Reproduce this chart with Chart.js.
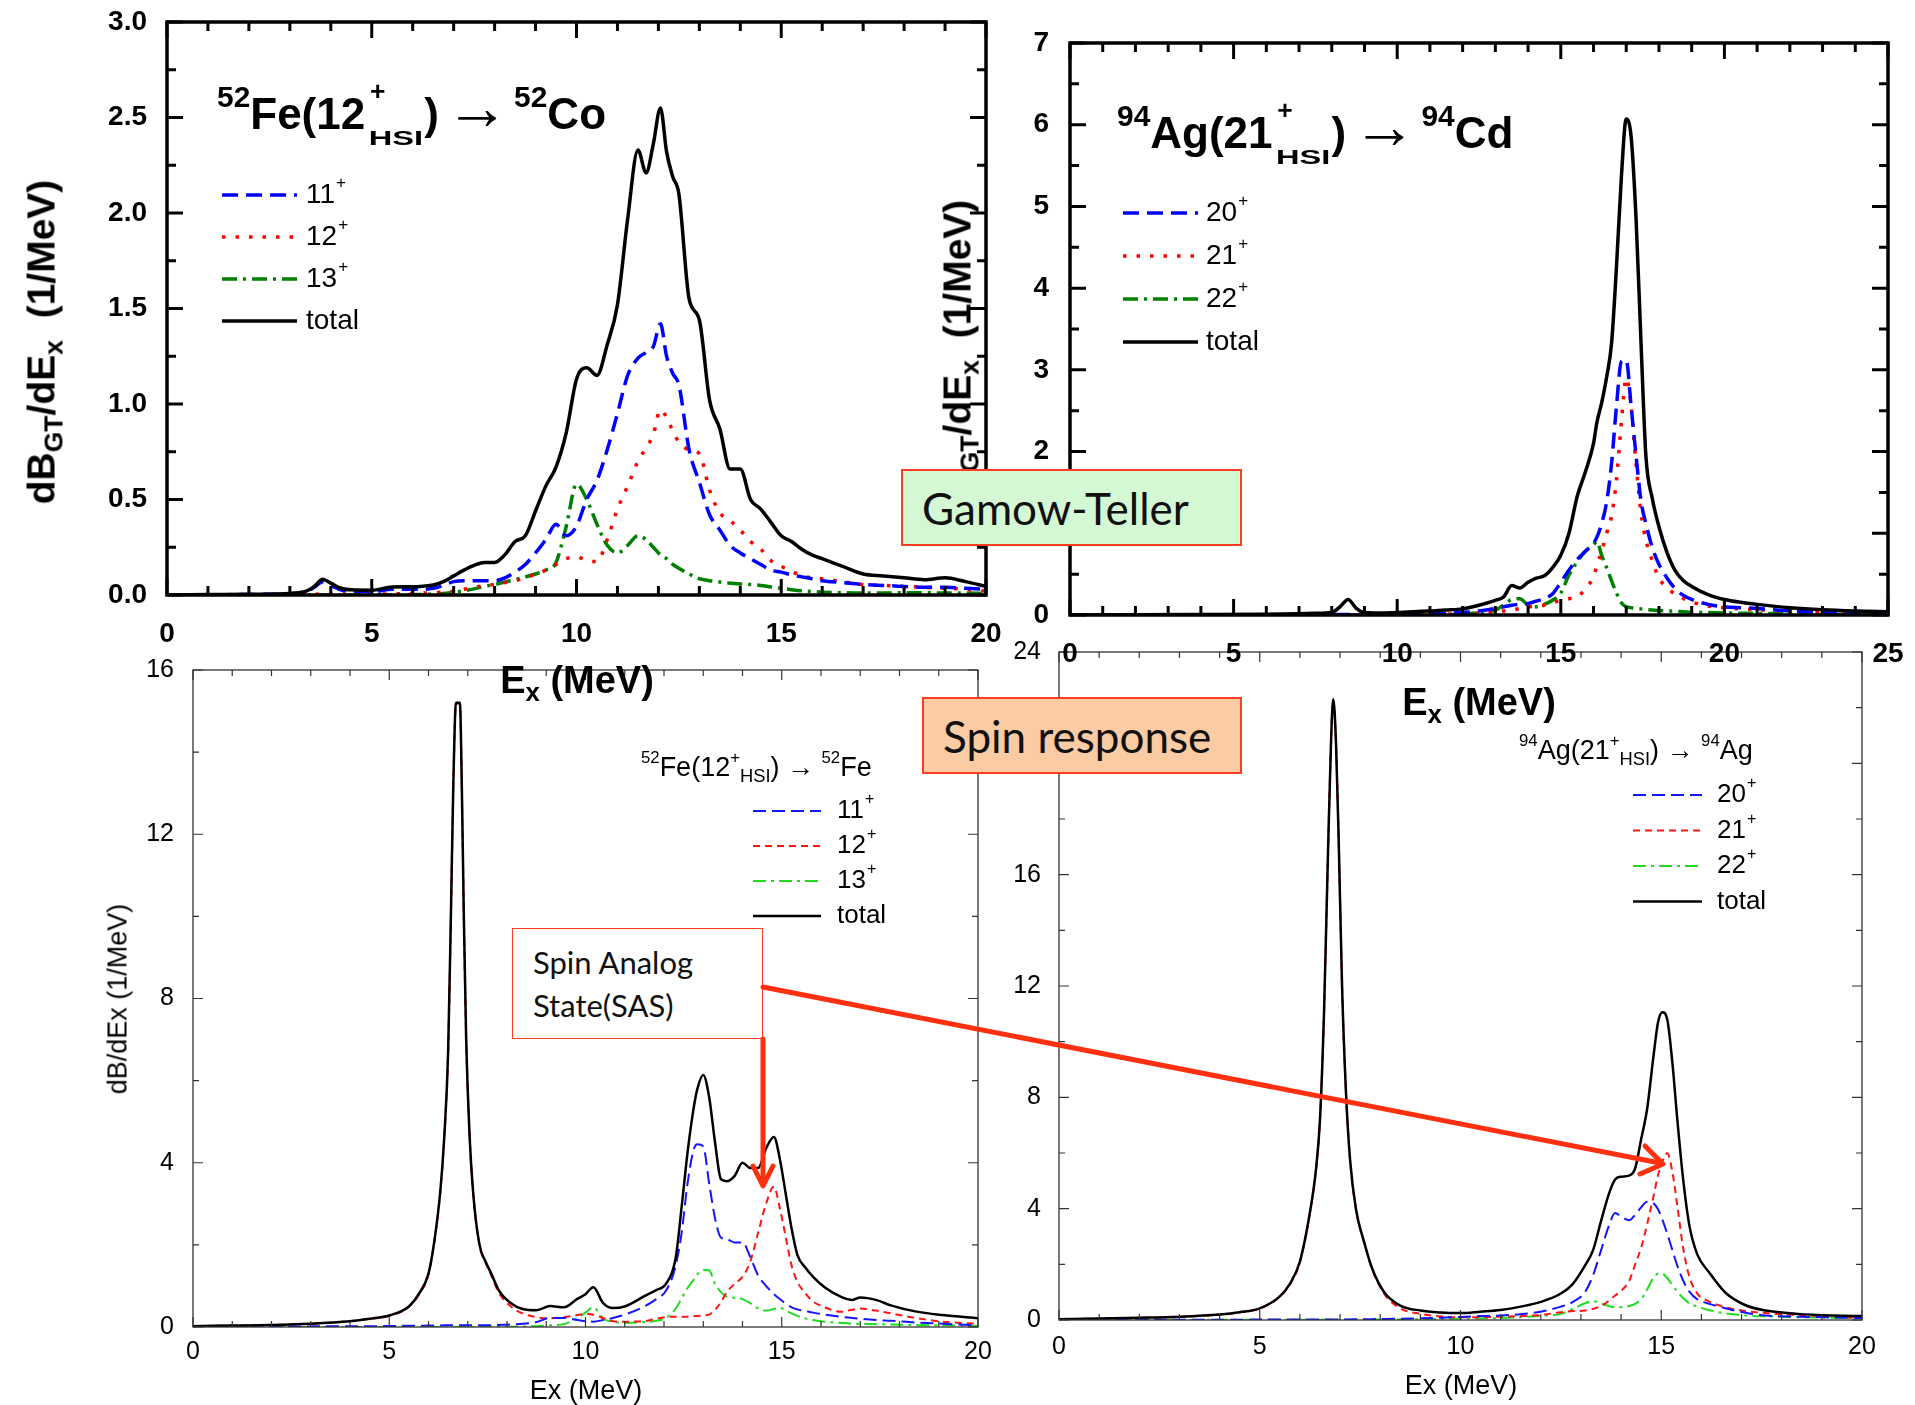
<!DOCTYPE html>
<html>
<head>
<meta charset="utf-8">
<title>Gamow-Teller and spin response</title>
<script src="https://cdn.jsdelivr.net/npm/chart.js@4.4.1/dist/chart.umd.min.js"></script>
<style>
  html, body { margin: 0; padding: 0; background: #fff; }
  body { position: relative; width: 1915px; height: 1405px; overflow: hidden;
         font-family: "Liberation Sans", Arial, sans-serif; color: #000; }
  canvas { position: absolute; }
  .t { position: absolute; white-space: nowrap; line-height: 1; }
  .bold { font-weight: bold; }
  .rot { transform: translate(-50%, -50%) rotate(-90deg); }
  .cx { transform: translateX(-50%); }
  .up { position: relative; font-size: 0.62em; top: -0.8em; }
  .up2 { position: relative; font-size: 0.68em; top: -0.72em; }
  .sb { position: relative; font-size: 0.68em; top: 0.32em; }
  .stk { display: inline-block; position: relative; width: 1.26em; height: 1px; margin-left: 0.08em; }
  .stk .p { position: absolute; left: 0.05em; top: -1.9em; font-size: 0.6em; }
  .stk .s { position: absolute; left: 0; top: 0; font-size: 0.74em;
            transform: scaleY(0.62); transform-origin: 0 0; }
  .arr { font-weight: normal; font-size: 1.45em; line-height: 0; margin: 0 0.08em 0 0.1em; }
  .box { position: absolute; box-sizing: border-box; border: 2px solid #ff3d1f;
         font-family: Lato, "Open Sans", sans-serif; color: #111; }
</style>
</head>
<body>
<canvas id="fefe" width="1010" height="785" style="left:0px; top:620px;"></canvas>
<canvas id="agag" width="955" height="805" style="left:960px; top:600px;"></canvas>
<canvas id="feco" width="1030" height="720" style="left:0px; top:-20px;"></canvas>
<canvas id="agcd" width="1050" height="700" style="left:900px; top:0px;"></canvas>

<!-- top-left titles -->
<div class="t bold" style="left:217px; top:92px; font-size:44px;"><span class="up2">52</span>Fe(12<span class="stk"><span class="p">+</span><span class="s">HSI</span></span>)<span class="arr">&rarr;</span><span class="up2">52</span>Co</div>
<div class="t bold rot" style="left:41px; top:342px; font-size:39px;">dB<span class="sb">GT</span>/dE<span class="sb">x</span>&nbsp; (1/MeV)</div>
<div class="t bold cx" style="left:577px; top:661px; font-size:38px;">E<span class="sb">x</span> (MeV)</div>

<!-- top-right titles -->
<div class="t bold" style="left:1117px; top:111px; font-size:44px;"><span class="up2">94</span>Ag(21<span class="stk"><span class="p">+</span><span class="s">HSI</span></span>)<span class="arr">&rarr;</span><span class="up2">94</span>Cd</div>
<div class="t bold rot" style="left:957px; top:362px; font-size:39px;">dB<span class="sb">GT</span>/dE<span class="sb">x</span>&nbsp; (1/MeV)</div>
<div class="t bold cx" style="left:1479px; top:683px; font-size:38px;">E<span class="sb">x</span> (MeV)</div>

<!-- bottom-left titles -->
<div class="t" style="left:641px; top:754px; font-size:27px;"><span class="up">52</span>Fe(12<span class="up">+</span><span class="sb">HSI</span>) &rarr; <span class="up">52</span>Fe</div>
<div class="t rot" style="left:118px; top:999px; font-size:27px;">dB/dEx (1/MeV)</div>
<div class="t cx" style="left:586px; top:1377px; font-size:27px;">Ex (MeV)</div>

<!-- bottom-right titles -->
<div class="t" style="left:1519px; top:737px; font-size:27px;"><span class="up">94</span>Ag(21<span class="up">+</span><span class="sb">HSI</span>) &rarr; <span class="up">94</span>Ag</div>
<div class="t cx" style="left:1461px; top:1372px; font-size:27px;">Ex (MeV)</div>

<!-- annotations -->
<div class="box" style="left:901px; top:469px; width:341px; height:77px; background:#d4f8d4; font-size:44px; padding:11px 0 0 19px;">Gamow-Teller</div>
<div class="box" style="left:922px; top:697px; width:320px; height:77px; background:#fbcba4; font-size:44px; padding:11px 0 0 19px;">Spin response</div>
<div class="box" style="left:512px; top:928px; width:251px; height:111px; background:#fff; border-width:1.5px; font-size:31px; line-height:43px; padding:12px 0 0 20px;">Spin Analog<br>State(SAS)</div>
<svg width="1915" height="1405" style="position:absolute; left:0; top:0;">
  <g stroke="#ff3010" stroke-width="5" fill="none" stroke-linecap="round" stroke-linejoin="round">
    <line x1="763" y1="987" x2="1660" y2="1163"/>
    <polyline points="1645,1146 1663,1164 1640,1174"/>
    <line x1="763" y1="1039" x2="763" y2="1183"/>
    <polyline points="753,1166 763,1186 773,1166"/>
  </g>
</svg>

<script>
// ---------- 52Fe(12+ HSI) -> 52Co, Gamow-Teller strength ----------
const feCoEx = [0, 1, 2, 3,
  3.4, 3.6, 3.8, 4.0, 4.2, 4.5,
  5, 5.5, 6,
  6.25, 6.5, 6.75, 7,
  7.25, 7.5, 7.75, 8,
  8.25, 8.5, 8.75, 9,
  9.25, 9.5, 9.75, 10,
  10.25, 10.5, 10.75, 11,
  11.25, 11.5,
  11.7, 11.875, 12.05, 12.2, 12.35, 12.5,
  12.75, 13,
  13.25, 13.5, 13.75, 14,
  14.25, 14.5, 14.75, 15,
  15.25, 15.5, 15.75, 16,
  16.5, 17, 17.5, 18, 18.5, 19, 19.5, 20];
const feCo11 = [0, 0.001, 0.003, 0.006,
  0.018, 0.04, 0.07, 0.05, 0.03, 0.02,
  0.018, 0.03, 0.03,
  0.03, 0.035, 0.05, 0.07,
  0.075, 0.075, 0.075, 0.075,
  0.09, 0.12, 0.16, 0.22,
  0.29, 0.37, 0.31, 0.36,
  0.5, 0.6, 0.76, 0.95,
  1.15, 1.24,
  1.27, 1.3, 1.42, 1.25, 1.16, 1.1,
  0.76, 0.59,
  0.42, 0.34, 0.26, 0.22,
  0.19, 0.16, 0.13, 0.12,
  0.105, 0.095, 0.085, 0.075,
  0.065, 0.055, 0.05, 0.045, 0.04, 0.04, 0.035, 0.03];
const feCo12 = [0, 0, 0, 0.002,
  0.003, 0.004, 0.005, 0.005, 0.005, 0.005,
  0.005, 0.006, 0.008,
  0.01, 0.012, 0.015, 0.02,
  0.03, 0.04, 0.05, 0.055,
  0.065, 0.075, 0.09, 0.11,
  0.13, 0.16, 0.19, 0.2,
  0.18, 0.175, 0.29, 0.45,
  0.57, 0.7,
  0.77, 0.84, 0.97, 0.93, 0.86, 0.8,
  0.76, 0.74,
  0.55, 0.43, 0.39, 0.34,
  0.28, 0.24, 0.18, 0.15,
  0.125, 0.1, 0.09, 0.085,
  0.07, 0.055, 0.05, 0.045, 0.04, 0.035, 0.03, 0.02];
const feCo13 = [0, 0, 0, 0,
  0, 0, 0, 0, 0, 0,
  0, 0.001, 0.002,
  0.003, 0.005, 0.008, 0.015,
  0.022, 0.032, 0.045, 0.055,
  0.068, 0.08, 0.095, 0.11,
  0.13, 0.17, 0.36, 0.58,
  0.5, 0.37, 0.26, 0.22,
  0.26, 0.31,
  0.29, 0.25, 0.21, 0.19, 0.16, 0.14,
  0.11, 0.085,
  0.075, 0.068, 0.062, 0.058,
  0.055, 0.05, 0.042, 0.035,
  0.028, 0.022, 0.018, 0.015,
  0.012, 0.01, 0.01, 0.012, 0.012, 0.01, 0.01, 0.008];
const feCoTotal = [0, 0.002, 0.004, 0.008,
  0.02, 0.045, 0.082, 0.062, 0.038, 0.027,
  0.025, 0.042, 0.043,
  0.046, 0.052, 0.07, 0.1,
  0.13, 0.155, 0.17, 0.17,
  0.21, 0.28, 0.31, 0.44,
  0.57, 0.67, 0.85, 1.13,
  1.19, 1.15, 1.31, 1.52,
  1.97, 2.33,
  2.21, 2.36, 2.55, 2.32, 2.19, 2.1,
  1.55, 1.44,
  1.02, 0.87, 0.66, 0.66,
  0.5, 0.45, 0.38, 0.31,
  0.28, 0.24, 0.21, 0.19,
  0.15, 0.11, 0.1, 0.09, 0.08, 0.09, 0.07, 0.045];

// ---------- 94Ag(21+ HSI) -> 94Cd, Gamow-Teller strength ----------
const agCdEx = [0, 2, 4, 6, 7, 7.5, 8,
  8.25, 8.5, 8.75, 9,
  9.5, 10, 10.5, 11, 11.5, 12, 12.5, 13,
  13.25, 13.5, 13.75, 14,
  14.25, 14.5, 14.75, 15,
  15.25, 15.5, 15.75, 16,
  16.1, 16.25, 16.4, 16.55, 16.7, 16.85, 17,
  17.15, 17.3, 17.45, 17.6, 17.8, 18,
  18.25, 18.5, 18.75, 19,
  19.5, 20, 20.5, 21,
  22, 23, 24, 25];
const agCd20 = [0, 0, 0, 0.002, 0.003, 0.004, 0.005,
  0.005, 0.005, 0.005, 0.005,
  0.006, 0.008, 0.01, 0.015, 0.02, 0.03, 0.05, 0.08,
  0.1, 0.12, 0.13, 0.14,
  0.17, 0.2, 0.26, 0.4,
  0.55, 0.68, 0.78, 0.88,
  0.95, 1.12, 1.38, 1.85, 2.55, 3.1, 3.12,
  2.55, 1.95, 1.4, 1.12, 0.82, 0.62,
  0.45, 0.32, 0.24, 0.19,
  0.13, 0.1, 0.09, 0.08,
  0.05, 0.03, 0.02, 0.01];
const agCd21 = [0, 0, 0, 0, 0, 0, 0.002,
  0.002, 0.003, 0.003, 0.003,
  0.004, 0.005, 0.006, 0.008, 0.01, 0.015, 0.025, 0.04,
  0.05, 0.06, 0.08, 0.1,
  0.11, 0.12, 0.15, 0.18,
  0.2, 0.22, 0.32, 0.47,
  0.6, 0.78, 1.0, 1.21, 1.65, 2.35, 2.9,
  2.55, 1.85, 1.25, 0.92, 0.66, 0.45,
  0.34, 0.25, 0.2, 0.16,
  0.11, 0.09, 0.075, 0.065,
  0.045, 0.03, 0.02, 0.015];
const agCd22 = [0, 0, 0, 0, 0, 0, 0,
  0, 0, 0, 0,
  0, 0, 0, 0.002, 0.005, 0.01, 0.03, 0.06,
  0.12, 0.19, 0.2, 0.12,
  0.1, 0.13, 0.18, 0.27,
  0.49, 0.65, 0.78, 0.86,
  0.9, 0.73, 0.58, 0.42, 0.27, 0.15, 0.1,
  0.09, 0.08, 0.075, 0.07, 0.06, 0.055,
  0.05, 0.045, 0.04, 0.035,
  0.03, 0.025, 0.02, 0.02,
  0.015, 0.01, 0.01, 0.005];
const agCdTotal = [0, 0.002, 0.005, 0.01, 0.015, 0.02, 0.03,
  0.1, 0.19, 0.08, 0.03,
  0.025, 0.03, 0.04, 0.05, 0.06, 0.075, 0.12, 0.18,
  0.22, 0.36, 0.33, 0.4,
  0.45, 0.48, 0.58, 0.73,
  1.0, 1.45, 1.75, 2.1,
  2.35, 2.6, 2.91, 3.32, 4.25, 5.35, 6.07,
  5.85, 4.85, 3.35, 1.95, 1.42, 1.08,
  0.76, 0.54, 0.42, 0.35,
  0.25, 0.19, 0.155, 0.13,
  0.09, 0.065, 0.05, 0.04];

// ---------- 52Fe(12+ HSI) -> 52Fe, spin response ----------
const feFeEx = [0, 1, 2, 3, 4, 4.5, 5,
  5.5, 5.75, 6,
  6.15, 6.3, 6.4, 6.5,
  6.57, 6.63, 6.7, 6.8,
  6.85, 6.9, 6.96, 7.04,
  7.14, 7.3, 7.45, 7.6,
  7.8, 8.1, 8.4, 8.75,
  9.1, 9.45, 9.8, 10,
  10.2, 10.45, 10.7, 11,
  11.5, 11.8, 12.05, 12.3,
  12.45, 12.6, 12.75, 12.85,
  13, 13.15, 13.3, 13.45,
  13.6, 13.8, 14, 14.2,
  14.4, 14.6, 14.8, 14.95,
  15.1, 15.25, 15.4, 15.6,
  15.8, 16.1, 16.5, 16.8,
  17, 17.4, 17.8, 18.4,
  19.1, 20];
const feFe11 = [0, 0.005, 0.01, 0.015, 0.02, 0.02, 0.025,
  0.03, 0.03, 0.035,
  0.035, 0.035, 0.04, 0.04,
  0.04, 0.04, 0.04, 0.04,
  0.04, 0.04, 0.04, 0.04,
  0.04, 0.04, 0.045, 0.045,
  0.05, 0.06, 0.08, 0.12,
  0.22, 0.22, 0.17, 0.14,
  0.13, 0.17, 0.22, 0.3,
  0.5, 0.68, 0.88, 1.5,
  2.3, 3.5, 4.3, 4.45,
  4.4, 3.5, 2.65, 2.18,
  2.14, 2.06, 2.06, 1.7,
  1.25, 1.0, 0.8, 0.68,
  0.57, 0.48, 0.43, 0.39,
  0.35, 0.3, 0.25, 0.22,
  0.2, 0.17, 0.15, 0.11,
  0.08, 0.04];
const feFe12 = [0.02, 0.035, 0.05, 0.08, 0.14, 0.2, 0.27,
  0.49, 0.78, 1.28,
  2.08, 3.28, 4.58, 6.68,
  9.98, 13.08, 15.18, 15.18,
  13.08, 9.98, 6.98, 4.78,
  3.23, 1.98, 1.58, 1.25,
  0.82, 0.5, 0.33, 0.24,
  0.21, 0.24, 0.29, 0.32,
  0.3, 0.22, 0.14, 0.13,
  0.14, 0.2, 0.24, 0.25,
  0.25, 0.25, 0.26, 0.27,
  0.28, 0.3, 0.42, 0.6,
  0.85, 1.05, 1.22, 1.6,
  2.3, 3.0, 3.42, 2.9,
  2.2, 1.5, 1.1, 0.82,
  0.62, 0.48, 0.37, 0.42,
  0.45, 0.4, 0.33, 0.22,
  0.13, 0.08];
const feFe13 = [0, 0, 0, 0, 0, 0, 0,
  0, 0, 0.002,
  0.002, 0.002, 0.002, 0.002,
  0.002, 0.002, 0.002, 0.002,
  0.002, 0.002, 0.002, 0.002,
  0.002, 0.003, 0.003, 0.004,
  0.005, 0.008, 0.012, 0.02,
  0.04, 0.07, 0.22, 0.35,
  0.48, 0.2, 0.13, 0.1,
  0.12, 0.15, 0.22, 0.45,
  0.7, 0.95, 1.14, 1.28,
  1.39, 1.38, 1.05, 0.85,
  0.74, 0.71, 0.68, 0.58,
  0.45, 0.4, 0.44, 0.47,
  0.4, 0.33, 0.27, 0.21,
  0.17, 0.13, 0.1, 0.08,
  0.075, 0.07, 0.06, 0.05,
  0.04, 0.03];
const feFeTotal = [0.02, 0.035, 0.05, 0.08, 0.14, 0.2, 0.28,
  0.5, 0.8, 1.3,
  2.1, 3.3, 4.6, 6.7,
  10.0, 13.1, 15.2, 15.2,
  13.1, 10.0, 7.0, 4.8,
  3.25, 2.0, 1.6, 1.3,
  0.88, 0.58, 0.44, 0.41,
  0.51, 0.48, 0.69, 0.8,
  0.97, 0.58, 0.46, 0.5,
  0.75, 0.9, 1.05, 1.7,
  2.93, 4.25, 5.3, 5.8,
  6.14, 5.6, 4.5, 3.6,
  3.55, 3.68, 4.0, 3.87,
  3.87, 4.35, 4.63, 4.1,
  3.25, 2.4, 1.75, 1.45,
  1.22, 0.96, 0.74, 0.66,
  0.72, 0.66, 0.52, 0.38,
  0.29, 0.21];

// ---------- 94Ag(21+ HSI) -> 94Ag, spin response ----------
const agAgEx = [0, 1, 2, 3, 4, 4.5, 5,
  5.5, 5.75, 6, 6.25,
  6.4, 6.5, 6.6, 6.7,
  6.78, 6.83, 6.9, 6.97,
  7.05, 7.15, 7.25, 7.4,
  7.6, 7.8, 8.1, 8.5,
  9, 9.5, 10, 10.5,
  11, 11.5, 12, 12.5,
  12.8, 13.1, 13.3, 13.5,
  13.7, 13.85, 14, 14.2,
  14.35, 14.5, 14.65, 14.8,
  14.92, 15.03, 15.15, 15.28,
  15.4, 15.55, 15.7, 15.9,
  16.2, 16.6, 17.1, 17.6,
  18.4, 19.3, 20];
const agAg20 = [0, 0.003, 0.005, 0.008, 0.01, 0.012, 0.015,
  0.018, 0.02, 0.02, 0.02,
  0.02, 0.02, 0.02, 0.02,
  0.02, 0.02, 0.02, 0.02,
  0.022, 0.022, 0.022, 0.025,
  0.025, 0.03, 0.035, 0.045,
  0.06, 0.08, 0.11, 0.14,
  0.16, 0.21, 0.3, 0.48,
  0.65, 1.0, 1.6, 2.5,
  3.4, 3.84, 3.72, 3.58,
  3.78, 4.05, 4.25, 4.2,
  3.98, 3.6, 3.1, 2.5,
  1.95, 1.4, 1.02, 0.74,
  0.58, 0.42, 0.26, 0.16,
  0.12, 0.09, 0.07];
const agAg21 = [0.03, 0.05, 0.075, 0.11, 0.19, 0.27, 0.41,
  0.83, 1.28, 2.08, 3.85,
  5.38, 7.18, 10.98, 16.78,
  20.98, 22.28, 20.68, 16.98,
  11.98, 8.08, 5.73, 3.93,
  2.78, 1.82, 0.94, 0.42,
  0.22, 0.13, 0.1, 0.1,
  0.12, 0.14, 0.18, 0.28,
  0.32, 0.34, 0.4, 0.5,
  0.7, 0.88, 1.05, 1.4,
  2.0, 2.6, 3.45, 4.4,
  5.2, 5.7, 5.99, 5.3,
  4.1, 2.55, 1.55, 0.95,
  0.66, 0.46, 0.32, 0.25,
  0.17, 0.12, 0.08];
const agAg22 = [0, 0, 0.002, 0.004, 0.006, 0.007, 0.008,
  0.01, 0.01, 0.01, 0.01,
  0.01, 0.01, 0.01, 0.01,
  0.01, 0.01, 0.01, 0.01,
  0.01, 0.01, 0.012, 0.012,
  0.012, 0.015, 0.018, 0.02,
  0.03, 0.04, 0.05, 0.06,
  0.07, 0.1, 0.15, 0.22,
  0.4, 0.6, 0.68, 0.6,
  0.5, 0.46, 0.46, 0.5,
  0.58, 0.75, 1.1, 1.5,
  1.66, 1.66, 1.5, 1.25,
  1.02, 0.78, 0.6, 0.48,
  0.35, 0.24, 0.16, 0.13,
  0.1, 0.08, 0.07];
const agAgTotal = [0.03, 0.05, 0.08, 0.12, 0.2, 0.28, 0.42,
  0.85, 1.3, 2.1, 3.87,
  5.4, 7.2, 11.0, 16.8,
  21.0, 22.3, 20.7, 17.0,
  12.0, 8.1, 5.75, 3.95,
  2.8, 1.85, 1.0, 0.52,
  0.34, 0.27, 0.25, 0.3,
  0.36, 0.48, 0.65, 0.95,
  1.3, 1.95, 2.5, 3.55,
  4.55, 5.05, 5.15, 5.19,
  5.45, 6.5, 7.6, 9.4,
  10.7, 11.06, 10.8, 9.2,
  7.2, 5.0, 3.4, 2.35,
  1.7, 0.98, 0.53, 0.34,
  0.22, 0.16, 0.14];

const feLabels = ['11', '12', '13', 'total'];
const agLabels = ['20', '21', '22', 'total'];

// line looks: bold Gamow-Teller panels and thin spin-response panels
const gtLook = {
  colors: ['#0000ff', '#ff0000', '#008000', '#000000'],
  dashes: [[16, 8], [3.5, 10], [15, 6, 3, 6], []],
  widths: [3.5, 3.5, 3.5, 3.5]
};
const spLook = {
  colors: ['#1414ff', '#ff1414', '#1fdc1f', '#000000'],
  dashes: [[13, 6], [7, 5], [13, 5, 3, 5], []],
  widths: [2, 2, 2, 2.5]
};

function isMult(v, m) {
  const r = v / m;
  return Math.abs(r - Math.round(r)) < 1e-6;
}

// frame + inward ticks on all four sides
const frameTicks = {
  id: 'frameTicks',
  afterDatasetsDraw(chart, args, o) {
    const ctx = chart.ctx, a = chart.chartArea;
    const sx = chart.scales.x, sy = chart.scales.y;
    ctx.save();
    ctx.strokeStyle = o.color;
    ctx.lineWidth = o.tickWidth;
    ctx.setLineDash([]);
    ctx.beginPath();
    const n = Math.round((sx.max - sx.min) / o.xMinor);
    for (let i = 0; i <= n; i++) {
      const v = sx.min + i * o.xMinor;
      const px = sx.getPixelForValue(v);
      const len = isMult(v, o.xMajor) ? o.major : o.minor;
      ctx.moveTo(px, a.bottom); ctx.lineTo(px, a.bottom - len);
      ctx.moveTo(px, a.top); ctx.lineTo(px, a.top + len);
    }
    const m = Math.round((sy.max - sy.min) / o.yMinor);
    for (let i = 0; i <= m; i++) {
      const v = sy.min + i * o.yMinor;
      const py = sy.getPixelForValue(v);
      const len = isMult(v, o.yMajor) ? o.major : o.minor;
      ctx.moveTo(a.left, py); ctx.lineTo(a.left + len, py);
      ctx.moveTo(a.right, py); ctx.lineTo(a.right - len, py);
    }
    ctx.stroke();
    ctx.lineWidth = o.frameWidth;
    ctx.strokeRect(a.left, a.top, a.right - a.left, a.bottom - a.top);
    ctx.restore();
  }
};

// legend drawn inside the plot, with "+" superscripts
const inLegend = {
  id: 'inLegend',
  afterDraw(chart, args, o) {
    const ctx = chart.ctx;
    chart.data.datasets.forEach((ds, i) => {
      const y = o.y + i * o.row;
      ctx.save();
      ctx.strokeStyle = ds.borderColor;
      ctx.lineWidth = ds.borderWidth;
      ctx.setLineDash(ds.borderDash || []);
      ctx.beginPath();
      ctx.moveTo(o.x, y);
      ctx.lineTo(o.x + o.len, y);
      ctx.stroke();
      ctx.restore();

      ctx.save();
      ctx.fillStyle = '#000';
      ctx.font = o.font;
      ctx.textBaseline = 'middle';
      const tx = o.x + o.len + o.gap;
      ctx.fillText(ds.label, tx, y);
      if (ds.sup) {
        const w = ctx.measureText(ds.label).width;
        ctx.font = o.supFont;
        ctx.fillText('+', tx + w + 1, y - o.supDy);
      }
      ctx.restore();
    });
  }
};

function panel(id, ex, series, labels, look, g) {
  const datasets = series.map((ys, i) => ({
    label: labels[i],
    sup: i < 3,
    data: ex.map((x, k) => ({ x: x, y: ys[k] })),
    borderColor: look.colors[i],
    borderDash: look.dashes[i],
    borderWidth: look.widths[i],
    order: i === 3 ? 0 : i + 1,
    pointRadius: 0,
    cubicInterpolationMode: 'monotone',
    fill: false
  }));
  const tickFont = { family: 'Liberation Sans', size: g.tickSize, weight: g.tickWeight };
  return new Chart(document.getElementById(id), {
    type: 'line',
    data: { datasets: datasets },
    options: {
      responsive: false,
      animation: false,
      events: [],
      layout: { padding: { top: g.top, right: g.right, left: 0, bottom: 0 } },
      plugins: {
        legend: { display: false },
        tooltip: { enabled: false },
        frameTicks: g.frame,
        inLegend: g.legend
      },
      scales: {
        x: {
          type: 'linear', min: 0, max: g.xMax,
          afterFit: s => { s.height = g.xh; },
          grid: { display: false, drawTicks: false },
          border: { display: false },
          ticks: { stepSize: 5, font: tickFont, color: '#000', padding: g.xPad,
                   maxRotation: 0, autoSkip: false }
        },
        y: {
          min: 0, max: g.yMax,
          afterFit: s => { s.width = g.yw; },
          grid: { display: false, drawTicks: false },
          border: { display: false },
          ticks: { stepSize: g.yStep, font: tickFont, color: '#000', padding: g.yPad,
                   autoSkip: false, callback: g.yFmt }
        }
      }
    },
    plugins: [frameTicks, inLegend]
  });
}

const gtFrame = { color: '#000', tickWidth: 3, frameWidth: 3.5, minor: 9, major: 16 };
const spFrame = { color: '#333', tickWidth: 1.2, frameWidth: 1.3, minor: 6, major: 10 };

panel('fefe', feFeEx, [feFe11, feFe12, feFe13, feFeTotal], feLabels, spLook, {
  top: 50, right: 32, xh: 78, yw: 193, xMax: 20, yMax: 16, yStep: 4,
  tickSize: 25, tickWeight: 'normal', xPad: 10, yPad: 19, yFmt: v => v,
  frame: Object.assign({ xMinor: 1, xMajor: 5, yMinor: 2, yMajor: 4 }, spFrame),
  legend: { x: 753, y: 191, row: 35, len: 68, gap: 16, font: '26px "Liberation Sans"',
            supFont: '16px "Liberation Sans"', supDy: 11 }
});
panel('agag', agAgEx, [agAg20, agAg21, agAg22, agAgTotal], agLabels, spLook, {
  top: 52, right: 53, xh: 85, yw: 99, xMax: 20, yMax: 24, yStep: 4,
  tickSize: 25, tickWeight: 'normal', xPad: 12, yPad: 18, yFmt: v => v,
  frame: Object.assign({ xMinor: 1, xMajor: 5, yMinor: 2, yMajor: 4 }, spFrame),
  legend: { x: 673, y: 195, row: 35.5, len: 69, gap: 15, font: '26px "Liberation Sans"',
            supFont: '16px "Liberation Sans"', supDy: 11 }
});
panel('feco', feCoEx, [feCo11, feCo12, feCo13, feCoTotal], feLabels, gtLook, {
  top: 42, right: 44, xh: 105, yw: 167, xMax: 20, yMax: 3, yStep: 0.5,
  tickSize: 28, tickWeight: 'bold', xPad: 22, yPad: 20, yFmt: v => v.toFixed(1),
  frame: Object.assign({ xMinor: 1, xMajor: 5, yMinor: 0.25, yMajor: 0.5 }, gtFrame),
  legend: { x: 222, y: 215, row: 42, len: 75, gap: 9, font: '28px "Liberation Sans"',
            supFont: '17px "Liberation Sans"', supDy: 12 }
});
panel('agcd', agCdEx, [agCd20, agCd21, agCd22, agCdTotal], agLabels, gtLook, {
  top: 43, right: 62, xh: 85, yw: 170, xMax: 25, yMax: 7, yStep: 1,
  tickSize: 28, tickWeight: 'bold', xPad: 22, yPad: 21, yFmt: v => v,
  frame: Object.assign({ xMinor: 1, xMajor: 5, yMinor: 0.5, yMajor: 1 }, gtFrame),
  legend: { x: 223, y: 213, row: 43, len: 75, gap: 8, font: '28px "Liberation Sans"',
            supFont: '17px "Liberation Sans"', supDy: 12 }
});
</script>
</body>
</html>
